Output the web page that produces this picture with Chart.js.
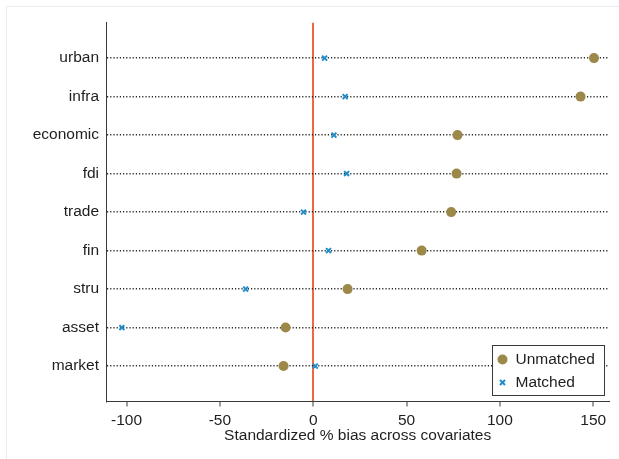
<!DOCTYPE html>
<html>
<head>
<meta charset="utf-8">
<script src="https://cdn.jsdelivr.net/npm/chart.js@4/dist/chart.umd.min.js"></script>
<style>
    html, body { margin: 0; padding: 0; background: #fff; }
</style>
</head>
<body>
<canvas id="graficoVies" width="619" height="459"></canvas>
<script>
// covariaveis, de cima para baixo
const covariaveis = ['urban', 'infra', 'economic', 'fdi', 'trade', 'fin', 'stru', 'asset', 'market'];
// vies padronizado (%) antes do pareamento
const viesUnmatched = [150.4, 143.2, 77.3, 76.8, 73.9, 58.1, 18.4, -14.8, -15.9];
// vies padronizado (%) depois do pareamento
const viesMatched = [6.1, 17.1, 11.1, 17.9, -5.2, 8.2, -36.2, -102.5, 1.1];
// marcas do eixo x
const ticksX = [-100, -50, 0, 50, 100, 150];

const fonte = { family: 'Liberation Sans, Arial, sans-serif', size: 15.5 };
const corTexto = '#1e1e1e';
const corEixo = '#3a3a3a';
const corUnmatched = '#9c8848';
const corMatched = '#1f8dc9';

// moldura clara em volta do grafico (como no Stata)
const moldura = {
    id: 'moldura',
    beforeDraw(chart) {
        const c = chart.ctx;
        c.save();
        c.strokeStyle = '#e8eded';
        c.lineWidth = 1;
        c.beginPath();
        c.moveTo(6.5, chart.height);
        c.lineTo(6.5, 6.5);
        c.lineTo(chart.width, 6.5);
        c.stroke();
        c.restore();
    }
};

// legenda dentro da area do grafico, no canto inferior direito
const legendaInterna = {
    id: 'legendaInterna',
    afterDraw(chart) {
        const c = chart.ctx;
        const area = chart.chartArea;
        const larg = 112, alt = 50;
        const x = Math.round(area.right - 5 - larg) + 0.5;
        const y = Math.round(area.bottom - 7 - alt) + 0.5;
        c.save();
        c.fillStyle = '#fff';
        c.fillRect(x, y, larg, alt);
        c.strokeStyle = corEixo;
        c.lineWidth = 1;
        c.strokeRect(x, y, larg, alt);

        // marcador circulo
        c.fillStyle = corUnmatched;
        c.beginPath();
        c.arc(x + 10, y + 14, 5, 0, Math.PI * 2);
        c.fill();
        // marcador x
        c.strokeStyle = corMatched;
        c.lineWidth = 2;
        const mx = x + 10, my = y + 37, r = 2.5;
        c.beginPath();
        c.moveTo(mx - r, my - r); c.lineTo(mx + r, my + r);
        c.moveTo(mx + r, my - r); c.lineTo(mx - r, my + r);
        c.stroke();

        c.fillStyle = corTexto;
        c.font = fonte.size + 'px ' + fonte.family;
        c.textAlign = 'left';
        c.textBaseline = 'middle';
        chart.data.datasets.forEach((ds, i) => {
            c.fillText(ds.label, x + 23, y + 14 + i * 23.5);
        });
        c.restore();
    }
};

const ctx = document.getElementById('graficoVies').getContext('2d');

new Chart(ctx, {
    type: 'scatter',
    data: {
        datasets: [
            {
                label: 'Unmatched',
                data: viesUnmatched.map((v, i) => ({ x: v, y: i })),
                pointStyle: 'circle',
                pointRadius: 5,
                pointBackgroundColor: corUnmatched,
                pointBorderColor: corUnmatched,
                pointBorderWidth: 0
            },
            {
                label: 'Matched',
                data: viesMatched.map((v, i) => ({ x: v, y: i })),
                pointStyle: 'crossRot',
                pointRadius: 3.5,
                pointBorderColor: corMatched,
                pointBorderWidth: 2
            }
        ]
    },
    options: {
        responsive: false,
        animation: false,
        devicePixelRatio: 1,
        layout: { padding: { top: 22.7, right: 9.7, left: 0, bottom: 0 } },
        plugins: {
            legend: { display: false },
            tooltip: { enabled: false }
        },
        scales: {
            x: {
                type: 'linear',
                min: -111,
                max: 158.6,
                afterBuildTicks: s => { s.ticks = ticksX.map(v => ({ value: v })); },
                afterFit: s => { s.height = 57.5; },
                ticks: { font: fonte, color: corTexto, padding: 5, maxRotation: 0 },
                grid: {
                    // so a linha do zero aparece, em vermelho
                    color: c => (c.tick && c.tick.value === 0) ? '#f06842' : 'rgba(0,0,0,0)',
                    lineWidth: 2,
                    drawTicks: true,
                    tickLength: 5,
                    tickColor: corEixo,
                    tickWidth: 1
                },
                border: { display: true, color: corEixo, width: 1 },
                title: {
                    display: true,
                    text: 'Standardized % bias across covariates',
                    font: fonte,
                    color: corTexto,
                    padding: { top: 0, bottom: 13.7 }
                }
            },
            y: {
                type: 'linear',
                reverse: true,
                min: -0.92,
                max: 8.92,
                afterBuildTicks: s => { s.ticks = covariaveis.map((_, i) => ({ value: i })); },
                afterFit: s => { s.width = 106; },
                ticks: { font: fonte, color: corTexto, padding: 7, callback: v => covariaveis[v] },
                grid: { color: '#2a2a2a', lineWidth: 1.5, drawTicks: false },
                border: { display: true, color: corEixo, width: 1, dash: [1.2, 2] }
            }
        }
    },
    plugins: [moldura, legendaInterna]
});
</script>
</body>
</html>
